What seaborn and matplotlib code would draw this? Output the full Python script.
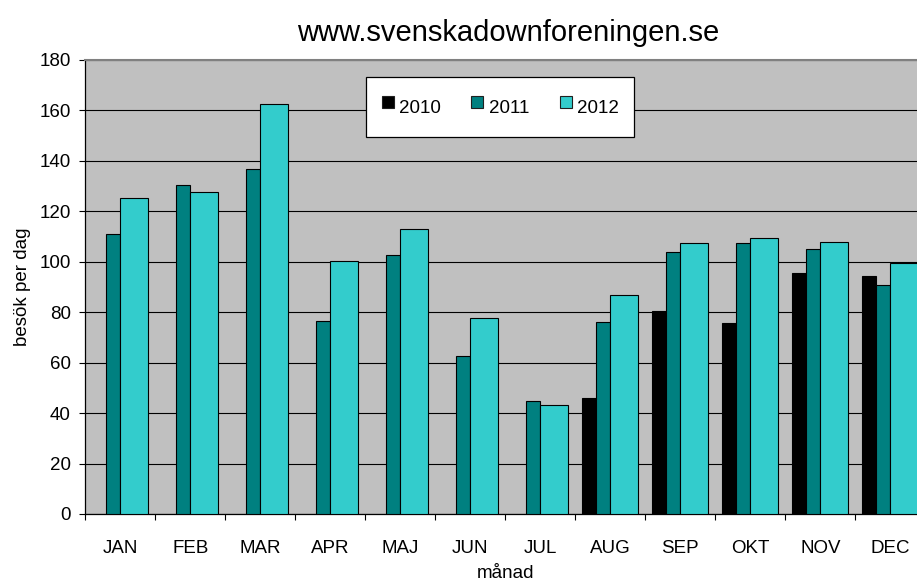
import numpy as np
import pandas as pd
import matplotlib
matplotlib.use("Agg")
import matplotlib.pyplot as plt
from matplotlib.lines import Line2D
import seaborn as sns

months = ["JAN", "FEB", "MAR", "APR", "MAJ", "JUN", "JUL", "AUG", "SEP", "OKT", "NOV", "DEC"]
v2010 = [None, None, None, None, None, None, None, 45.9, 80.4, 75.9, 95.4, 94.5]
v2011 = [111.0, 130.3, 136.8, 76.7, 102.8, 62.7, 44.8, 76.3, 103.9, 107.4, 105.2, 90.7]
v2012 = [125.4, 127.6, 162.5, 100.2, 113.1, 77.9, 43.4, 87.0, 107.4, 109.6, 107.7, 99.5]
years = ["2010", "2011", "2012"]
colors = ["#000000", "#008080", "#33CCCC"]
yticks = [0, 20, 40, 60, 80, 100, 120, 140, 160, 180]

rows = []
for yr, vals in zip(years, [v2010, v2011, v2012]):
    for m, v in zip(months, vals):
        if v is not None:
            rows.append({"månad": m, "besök": v, "år": yr})
df = pd.DataFrame(rows)

sns.set_style("white")
plt.rcParams["font.family"] = ["Liberation Sans", "DejaVu Sans"]
plt.rcParams.update({"text.color": "black", "axes.labelcolor": "black",
                     "xtick.color": "black", "ytick.color": "black"})

fig = plt.figure(figsize=(9.17, 5.81), dpi=100)
ax = fig.add_axes([85.3 / 917, 67 / 581, 840 / 917, 454 / 581])
ax.set_facecolor("#C0C0C0")

sns.barplot(data=df, x="månad", y="besök", hue="år", order=months, hue_order=years,
            palette=colors, saturation=1, width=0.8, errorbar=None,
            edgecolor="black", linewidth=0.8, legend=False, ax=ax, zorder=3)

# Excel-like bar geometry: black & teal narrow, turquoise wide
geom = {"2010": (-0.4, 0.2), "2011": (-0.2, 0.2), "2012": (0.0, 0.4)}
for cont, yr in zip(ax.containers, years):
    off, w = geom[yr]
    for p in cont.patches:
        c = round(p.get_x() + p.get_width() / 2)
        p.set_x(c + off)
        p.set_width(w)

ax.set_xlim(-0.5, 11.5)
ax.set_ylim(0, 180)
ax.set_yticks(yticks)
ax.set_yticklabels([str(t) for t in yticks], fontsize=13.5)
ax.yaxis.grid(True, color="black", linewidth=0.8, zorder=1)
ax.xaxis.grid(False)
ax.set_axisbelow(True)

ax.set_xticks(np.arange(-0.5, 12, 1))
ax.set_xticklabels([""] * 13)
ax.set_xticks(np.arange(12), minor=True)
ax.set_xticklabels(months, minor=True, fontsize=13.5)
ax.tick_params(axis="x", which="major", direction="out", length=4.5, width=0.8, color="black", bottom=True)
ax.tick_params(axis="x", which="minor", length=0, pad=18.5, labelcolor="black")
ax.tick_params(axis="y", direction="out", length=4.5, width=0.8, color="black", left=True, pad=6,
               labelcolor="black")

for s in ["left", "bottom"]:
    ax.spines[s].set_color("black")
    ax.spines[s].set_linewidth(0.9)
ax.spines["top"].set_color("#808080")
ax.spines["top"].set_linewidth(1.5)
ax.spines["right"].set_color("#808080")

ax.set_xlabel("månad", fontsize=13.5, labelpad=6, color="black")
ax.set_ylabel("besök per dag", fontsize=13.5, labelpad=6, color="black")

fig.text(508 / 917, 1 - 33 / 581, "www.svenskadownforeningen.se", ha="center", va="center",
         fontsize=21, color="black")

handles = [Line2D([], [], marker="s", linestyle="", markersize=8.5, markerfacecolor=c,
                  markeredgecolor="#202020", markeredgewidth=0.8) for c in colors]
leg = fig.legend(handles, years, loc="center", bbox_to_anchor=(500 / 917, 1 - 107 / 581),
                 ncol=3, fontsize=13.5, frameon=True, fancybox=False, handlelength=0.7,
                 handleheight=2.1, handletextpad=0.25, columnspacing=1.6, borderpad=0.8,
                 labelcolor="black")
leg.get_frame().set_edgecolor("black")
leg.get_frame().set_linewidth(0.9)
leg.get_frame().set_facecolor("white")
leg.get_frame().set_alpha(1)

fig.savefig("out.png", dpi=100)
